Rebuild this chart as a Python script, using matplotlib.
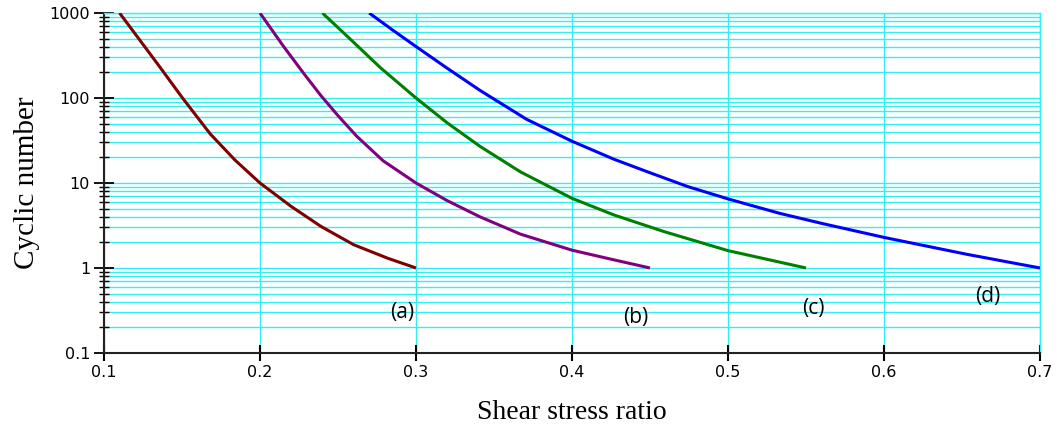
import numpy as np
import matplotlib.pyplot as plt
from matplotlib.ticker import LogLocator, FixedLocator, FuncFormatter, NullFormatter

# shear stress ratio vs cycles to failure, four cases
xA = [0.110, 0.123, 0.136, 0.150, 0.168, 0.184, 0.200, 0.220, 0.239, 0.260, 0.282, 0.300]
yA = [1000, 479, 229, 102, 38, 18.6, 10, 5.3, 3.09, 1.88, 1.30, 1.0]

xB = [0.200, 0.215, 0.228, 0.239, 0.250, 0.262, 0.279, 0.300, 0.320, 0.341, 0.367,
      0.400, 0.427, 0.450]
yB = [1000, 407, 195, 107, 62, 35.5, 18.2, 10, 6.2, 4.0, 2.5, 1.62, 1.245, 1.0]

xC = [0.240, 0.258, 0.277, 0.300, 0.320, 0.341, 0.367, 0.400, 0.427, 0.459, 0.500, 0.550]
yC = [1000, 490, 229, 100, 51, 27, 13.5, 6.6, 4.2, 2.68, 1.6, 1.0]

xD = [0.270, 0.285, 0.300, 0.320, 0.341, 0.371, 0.400, 0.427, 0.450, 0.474, 0.500,
      0.533, 0.560, 0.600, 0.653, 0.700]
yD = [1000, 631, 403, 224, 123, 56, 31, 19, 13.2, 9.1, 6.5, 4.4, 3.35, 2.29, 1.45, 1.0]

series = [(xA, yA, '#800000'), (xB, yB, '#800080'), (xC, yC, '#008000'), (xD, yD, '#0000ff')]

case_labels = ['(a)', '(b)', '(c)', '(d)']
case_x = [0.291, 0.441, 0.5545, 0.6667]
case_y = [0.30, 0.26, 0.33, 0.456]

fig = plt.figure(figsize=(10.62, 4.29), dpi=100)
ax = fig.add_axes([0.0979, 0.1772, 0.8814, 0.7925])

for x, y, c in series:
    ax.plot(x, y, color=c, lw=2.2, solid_capstyle='butt', solid_joinstyle='round', zorder=3)

ax.set_yscale('log')
ax.set_xlim(0.1, 0.7)
ax.set_ylim(0.1, 1000)

ax.xaxis.set_major_locator(FixedLocator([0.1, 0.2, 0.3, 0.4, 0.5, 0.6, 0.7]))
ax.xaxis.set_major_formatter(FuncFormatter(lambda v, p: '%.1f' % v))
ax.yaxis.set_major_locator(LogLocator(base=10, numticks=10))
ax.yaxis.set_minor_locator(LogLocator(base=10, subs=np.arange(2, 10), numticks=20))
ax.yaxis.set_major_formatter(FuncFormatter(lambda v, p: '%g' % v))
ax.yaxis.set_minor_formatter(NullFormatter())

ax.grid(True, which='major', axis='both', color='#30f0f0', lw=1.0, zorder=0)
ax.grid(True, which='minor', axis='y', color='#30f0f0', lw=1.0, zorder=0)

for s in ['top', 'right']:
    ax.spines[s].set_color('#30f0f0')
    ax.spines[s].set_linewidth(1.0)
for s in ['left', 'bottom']:
    ax.spines[s].set_color('#222222')
    ax.spines[s].set_linewidth(1.5)

ax.tick_params(axis='x', which='major', direction='inout', length=12, width=1.5,
               pad=3, labelsize=11.5)
ax.tick_params(axis='y', which='major', direction='inout', length=14, width=1.3,
               pad=3, labelsize=11.5)
ax.tick_params(axis='y', which='minor', direction='inout', length=7, width=1.0)
for lab in ax.get_xticklabels() + ax.get_yticklabels():
    lab.set_family('DejaVu Sans')

ax.set_xlabel('Shear stress ratio', family='Liberation Serif', fontsize=20, labelpad=14)
ax.set_ylabel('Cyclic number', family='Liberation Serif', fontsize=21, labelpad=7)

for t, x, y in zip(case_labels, case_x, case_y):
    ax.text(x, y, t, ha='center', va='center', fontsize=15, family='Open Sans', zorder=4)

fig.savefig('out.png', dpi=100)
